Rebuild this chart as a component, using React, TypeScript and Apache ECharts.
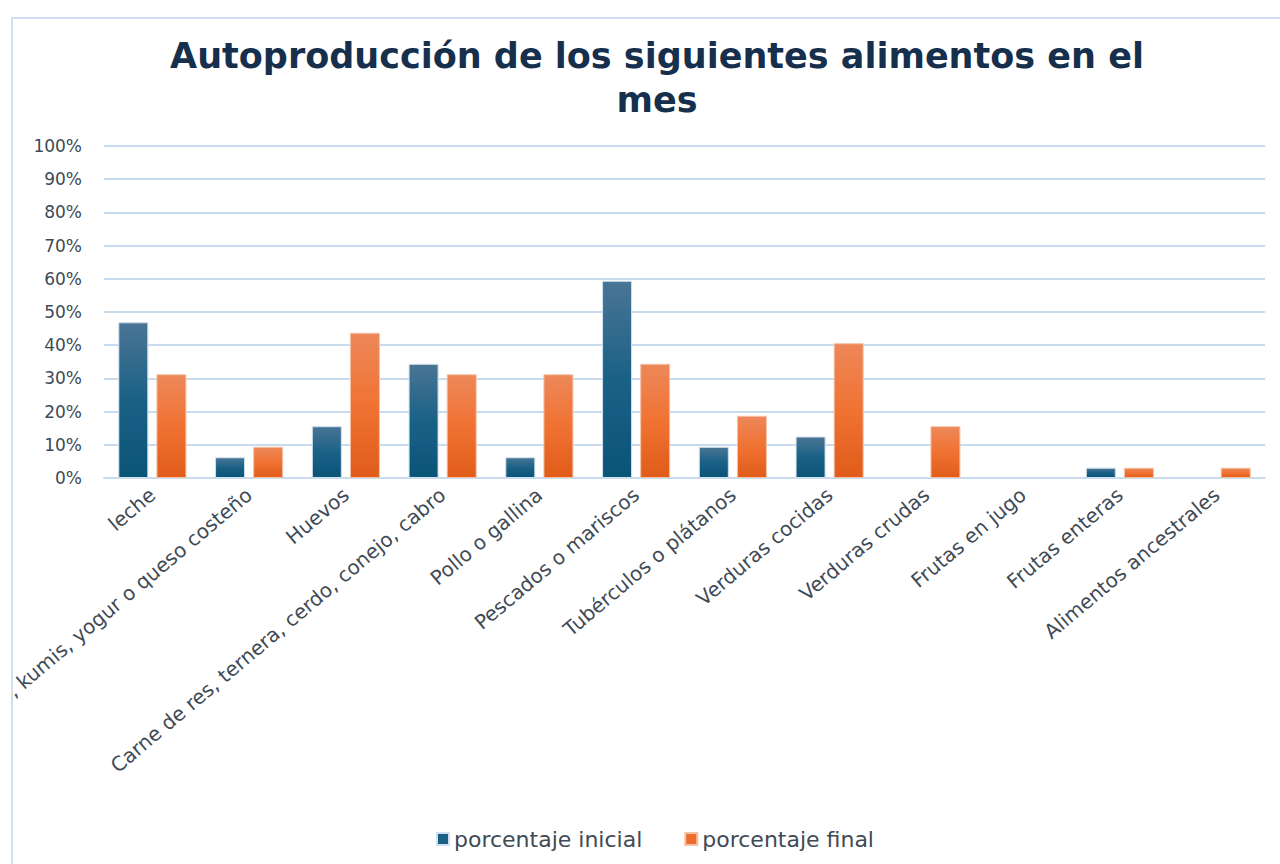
import React, { useEffect, useRef } from "react";
import * as echarts from "echarts";

const categories = [
  "leche",
  ", kumis, yogur o queso costeño",
  "Huevos",
  "Carne de res, ternera, cerdo, conejo, cabro",
  "Pollo o gallina",
  "Pescados o mariscos",
  "Tubérculos o plátanos",
  "Verduras cocidas",
  "Verduras crudas",
  "Frutas en jugo",
  "Frutas enteras",
  "Alimentos ancestrales",
];
const inicial = [46.9, 6.25, 15.6, 34.4, 6.25, 59.4, 9.4, 12.5, 0, 0, 3.1, 0];
const final = [31.25, 9.4, 43.75, 31.25, 31.25, 34.4, 18.75, 40.6, 15.6, 0, 3.1, 3.1];
const seriesNames = ["porcentaje inicial", "porcentaje final"];
const titleText = "Autoproducción de los siguientes alimentos en el\nmes";

const FONT = "DejaVu Sans";

export default function App() {
  const ref = useRef<HTMLDivElement>(null);
  useEffect(() => {
    if (!ref.current) return;
    const chart = echarts.init(ref.current, undefined, { renderer: "svg" });
    const blueGrad = new echarts.graphic.LinearGradient(0, 0, 0, 1, [
      { offset: 0, color: "#4a7594" },
      { offset: 0.5, color: "#1a6186" },
      { offset: 1, color: "#0a5478" },
    ]);
    const orangeGrad = new echarts.graphic.LinearGradient(0, 0, 0, 1, [
      { offset: 0, color: "#ed885a" },
      { offset: 0.5, color: "#f07232" },
      { offset: 1, color: "#e05c1a" },
    ]);
    const mk = (arr: number[]) =>
      arr.map((v) => (v === 0 ? { value: v, itemStyle: { borderWidth: 0 } } : v));
    chart.setOption({
      animation: false,
      backgroundColor: "#ffffff",
      graphic: [
        {
          type: "line",
          shape: { x1: 12, y1: 18, x2: 12, y2: 864 },
          style: { stroke: "#cfe0f2", lineWidth: 2 },
        },
        {
          type: "line",
          shape: { x1: 11, y1: 18, x2: 1280, y2: 18 },
          style: { stroke: "#cfe0f2", lineWidth: 2 },
        },
      ],
      title: {
        text: titleText,
        left: 652,
        textAlign: "center",
        top: 29,
        textStyle: {
          fontFamily: FONT,
          fontWeight: "bold",
          fontSize: 35,
          color: "#152f4d",
          lineHeight: 44,
        },
      },
      legend: {
        bottom: 9,
        left: 431,
        itemWidth: 12,
        itemHeight: 12,
        itemGap: 42,
        icon: "rect",
        textStyle: { fontFamily: FONT, fontSize: 22, color: "#404a55" },
        data: [
          { name: seriesNames[0], itemStyle: { color: "#1a5f86" } },
          { name: seriesNames[1], itemStyle: { color: "#ee6d2c" } },
        ],
      },
      grid: {
        left: 104,
        right: 15,
        top: 146,
        bottom: 386,
        containLabel: false,
        outerBoundsMode: "none",
      },
      xAxis: {
        type: "category",
        data: categories,
        axisLine: { show: true, lineStyle: { color: "#c9dcef", width: 2 } },
        axisTick: { show: false },
        axisLabel: {
          interval: 0,
          rotate: 40,
          margin: 14,
          fontFamily: FONT,
          fontSize: 20,
          color: "#404a55",
        },
      },
      yAxis: {
        type: "value",
        min: 0,
        max: 100,
        interval: 10,
        axisLine: { show: false },
        axisTick: { show: false },
        axisLabel: {
          formatter: "{value}%",
          fontFamily: FONT,
          fontSize: 17,
          color: "#404a55",
          margin: 22,
        },
        splitLine: { lineStyle: { color: "#c9dcef", width: 2 } },
      },
      series: [
        {
          name: seriesNames[0],
          type: "bar",
          data: mk(inicial),
          barWidth: 30,
          barGap: "27%",
          itemStyle: { color: blueGrad, borderColor: "#cfe0ee", borderWidth: 1 },
        },
        {
          name: seriesNames[1],
          type: "bar",
          data: mk(final),
          barWidth: 30,
          barGap: "27%",
          itemStyle: { color: orangeGrad, borderColor: "#f5c2a6", borderWidth: 1 },
        },
      ],
    });
    return () => chart.dispose();
  }, []);
  return (
    <div style={{ position: "absolute", left: 0, top: 0, width: 1280, height: 864, background: "#fff" }}>
      <div ref={ref} style={{ width: 1280, height: 864 }} />
    </div>
  );
}
